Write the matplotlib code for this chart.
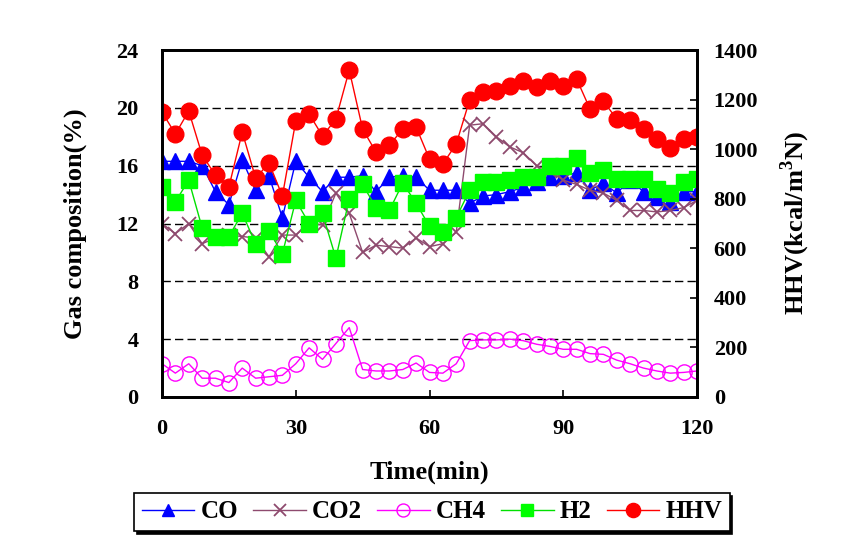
import matplotlib
matplotlib.use("Agg")
import matplotlib.pyplot as plt

plt.rcParams['font.family'] = ['Liberation Serif', 'DejaVu Serif']
plt.rcParams['font.weight'] = 'bold'
plt.rcParams['mathtext.fontset'] = 'custom'
plt.rcParams['mathtext.bf'] = 'Liberation Serif:bold'
plt.rcParams['mathtext.rm'] = 'Liberation Serif:bold'

time_min = list(range(0, 121, 3))

co = [16.3, 16.3, 16.3, 16.0, 14.2, 13.3, 16.4, 14.3, 15.3, 12.4,
      16.3, 15.2, 14.2, 15.2, 15.2, 15.3, 14.2, 15.2, 15.3, 15.2,
      14.3, 14.3, 14.3, 13.4, 13.9, 14.0, 14.2, 14.5, 14.9, 15.2,
      15.3, 15.5, 14.3, 14.8, 14.1, 15.0, 14.2, 13.8, 13.5, 14.2, 14.2]

co2 = [12.0, 11.3, 12.0, 10.6, 11.0, 11.2, 11.1, 11.0, 9.7, 11.2,
       11.2, 12.0, 11.9, 14.1, 12.7, 10.0, 10.5, 10.4, 10.3, 11.0,
       10.4, 10.6, 11.4, 18.8, 18.9, 18.0, 17.3, 16.9, 16.0, 15.6,
       15.0, 14.7, 14.3, 14.1, 13.6, 12.9, 12.9, 12.8, 12.9, 13.1, 13.6]

ch4 = [2.3, 1.65, 2.3, 1.3, 1.3, 1.0, 2.0, 1.3, 1.4, 1.5,
       2.3, 3.4, 2.6, 3.7, 4.8, 1.9, 1.8, 1.8, 1.9, 2.35,
       1.7, 1.65, 2.3, 3.9, 3.95, 3.95, 4.0, 3.9, 3.65, 3.5,
       3.3, 3.3, 3.0, 2.95, 2.55, 2.3, 2.0, 1.8, 1.65, 1.7, 1.8]

h2 = [14.5, 13.5, 15.0, 11.7, 11.1, 11.1, 12.7, 10.6, 11.5, 9.9,
      13.6, 12.0, 12.7, 9.6, 13.7, 14.7, 13.1, 12.9, 14.8, 13.4,
      11.8, 11.4, 12.4, 14.3, 14.9, 14.9, 15.0, 15.2, 15.2, 16.0,
      16.0, 16.5, 15.5, 15.7, 15.1, 15.1, 15.1, 14.4, 14.1, 14.9, 15.1]

hhv = [1150, 1061, 1154, 976, 895, 847, 1069, 883, 944, 811,
       1113, 1142, 1053, 1121, 1319, 1081, 988, 1016, 1081, 1089,
       960, 940, 1021, 1198, 1230, 1234, 1255, 1275, 1250, 1275,
       1255, 1283, 1162, 1194, 1121, 1117, 1081, 1041, 1004, 1041, 1049]

left_ticks = [0, 4, 8, 12, 16, 20, 24]
right_ticks = [0, 200, 400, 600, 800, 1000, 1200, 1400]
x_ticks = [0, 30, 60, 90, 120]

fig = plt.figure(figsize=(8.52, 5.56), dpi=100)
ax = fig.add_axes([162/852, 1-397/556, 535/852, 347/556])
ax2 = ax.twinx()

co2_color = '#8E4A6E'
l_co, = ax.plot(time_min, co, color='#0000FF', lw=1, marker='^', ms=11,
                mfc='#0000FF', mec='#0000FF', label='CO')
l_co2, = ax.plot(time_min, co2, color=co2_color, lw=1, marker='x', ms=10,
                 mew=1.3, mec=co2_color, label='CO2')
l_ch4, = ax.plot(time_min, ch4, color='#FF00FF', lw=1, marker='o', ms=11,
                 mfc='none', mec='#FF00FF', mew=1.0, label='CH4')
l_h2, = ax.plot(time_min, h2, color='#00E000', lw=1, marker='s', ms=11,
                mfc='#00FF00', mec='#00FF00', label='H2')
l_hhv, = ax2.plot(time_min, hhv, color='#FF0000', lw=1, marker='o', ms=12,
                  mfc='#FF0000', mec='#FF0000', label='HHV')

ax.set_xlim(0, 120)
ax.set_ylim(0, 24)
ax2.set_ylim(0, 1400)
ax.set_xticks(x_ticks)
ax.set_yticks(left_ticks)
ax2.set_yticks(right_ticks)

ax.yaxis.grid(True, color='black', lw=1, linestyle=(0, (6, 3)))
ax.set_axisbelow(True)

for a in (ax, ax2):
    for s in a.spines.values():
        s.set_linewidth(2)
        s.set_color('black')

ax.tick_params(axis='x', direction='in', length=5, width=1.2, pad=16, labelsize=16)
ax.tick_params(axis='y', direction='in', length=0, pad=17, labelsize=16)
ax2.tick_params(axis='y', direction='in', length=5, width=1.2, pad=12, labelsize=16)

for lab in ax.get_xticklabels() + ax.get_yticklabels() + ax2.get_yticklabels():
    lab.set_fontweight('bold')

ax.set_xlabel('Time(min)', fontsize=19, fontweight='bold')
ax.xaxis.set_label_coords(0.5, -0.182)
ax.set_ylabel('Gas composition(%)', fontsize=19, fontweight='bold')
ax.yaxis.set_label_coords(-0.141, 0.5)
ax2.set_ylabel('HHV(kcal/m$^\\mathbf{3}$N)', fontsize=19, fontweight='bold')
ax2.yaxis.set_label_coords(1.153, 0.5)

handles = [l_co, l_co2, l_ch4, l_h2, l_hhv]
labels = ['CO', 'CO2', 'CH4', 'H2', 'HHV']
leg = fig.legend(handles, labels, loc='center', bbox_to_anchor=(432/852, 1-512/556),
                 ncol=5, frameon=True, fancybox=False, edgecolor='black',
                 prop={'family': 'Liberation Serif', 'weight': 'bold', 'size': 18},
                 handlelength=2.1, columnspacing=0.6, handletextpad=0.25,
                 borderpad=0.3, borderaxespad=0, markerscale=0.85,
                 shadow={'color': 'black', 'alpha': 1})
leg.get_frame().set_linewidth(1.2)

fig.savefig('out.png', dpi=100)
